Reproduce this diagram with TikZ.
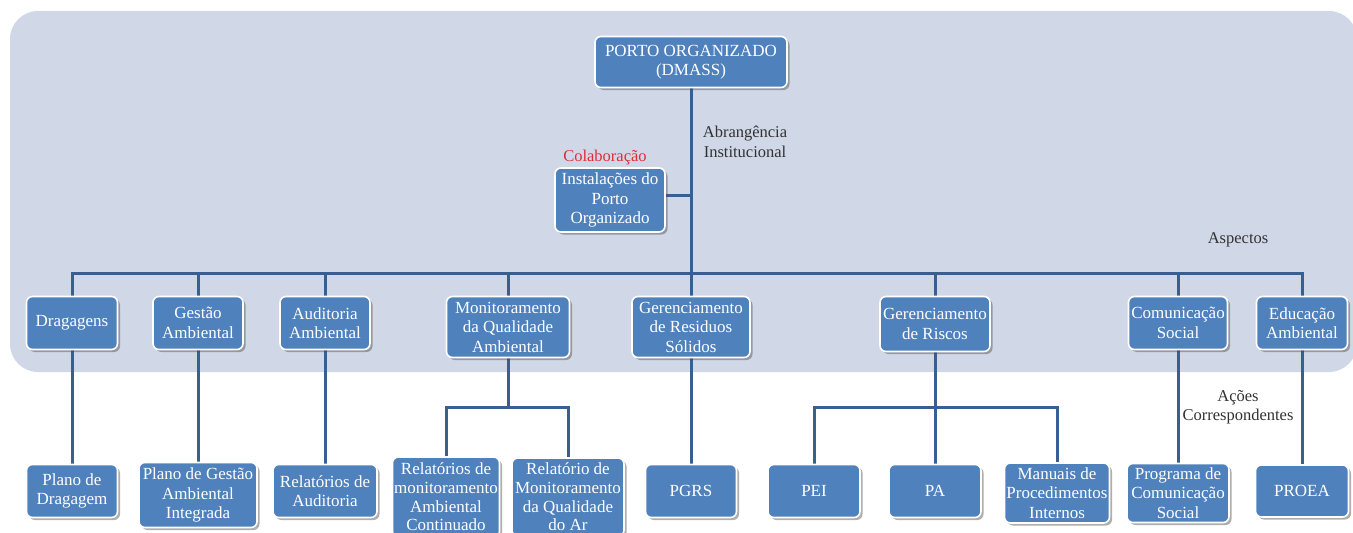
\documentclass[tikz,border=0pt]{standalone}
\usepackage{fontspec}
\setmainfont{Liberation Serif}
\usetikzlibrary{shadows}
\definecolor{panelc}{RGB}{208,216,232}
\definecolor{boxc}{RGB}{79,129,189}
\definecolor{linec}{RGB}{56,94,146}
\definecolor{labc}{RGB}{50,50,50}
\definecolor{redc}{RGB}{222,45,55}
\pgfdeclarelayer{bg}
\pgfdeclarelayer{lines}
\pgfsetlayers{bg,lines,main}
\tikzset{
  box/.style={draw=white, line width=1.6pt, fill=boxc, rounded corners=6pt,
    text=white, align=center, inner sep=0pt,
    font=\fontsize{17}{19.5}\selectfont,
    drop shadow={shadow xshift=2.5pt, shadow yshift=-2.5pt, opacity=0.45, fill=black!70}},
  tightbox/.style={font=\fontsize{17}{18.6}\selectfont},
  conn/.style={draw=linec, line width=3pt},
  lab/.style={text=labc, align=center, font=\fontsize{16.5}{19.5}\selectfont}
}
\newcommand{\bx}[7][]{\node[box, #1, minimum width=#5pt, minimum height=#6pt] (#2) at (#3,#4) {#7};}
\begin{document}
\begin{tikzpicture}[x=1pt,y=-1pt]
\useasboundingbox (0,0) rectangle (1353,533);
\begin{pgfonlayer}{bg}
\fill[panelc, rounded corners=28pt] (10,11) rectangle (1357,372);
\end{pgfonlayer}
% top
\bx{porto}{691}{62}{192}{51}{PORTO ORGANIZADO\\(DMASS)}
\bx{inst}{610}{200}{110}{64}{Instalações do\\Porto\\Organizado}
% level 2
\bx{drag}{72}{323}{91}{53}{Dragagens}
\bx{gest}{198}{323}{90}{53}{Gestão\\Ambiental}
\bx{aud}{325}{323}{90}{53}{Auditoria\\Ambiental}
\bx{mon}{508}{327}{123}{61}{Monitoramento\\da Qualidade\\Ambiental}
\bx{res}{691}{327}{118}{61}{Gerenciamento\\de Residuos\\Sólidos}
\bx{risc}{935}{324}{110}{55}{Gerenciamento\\de Riscos}
\bx{com}{1178}{323}{99}{53}{Comunicação\\Social}
\bx{edu}{1302}{323}{91}{53}{Educação\\Ambiental}
% level 3
\bx{pdrag}{72}{491}{91}{53}{Plano de\\Dragagem}
\bx{pgest}{198}{495}{118}{65}{Plano de Gestão\\Ambiental\\Integrada}
\bx{raud}{325}{491}{104}{53}{Relatórios de\\Auditoria}
\bx[tightbox]{rmon}{446}{497}{107}{80}{Relatórios de\\monitoramento\\Ambiental\\Continuado}
\bx[tightbox]{rar}{568}{497}{112}{78}{Relatório de\\Monitoramento\\da Qualidade\\do Ar}
\bx{pgrs}{691}{491}{91}{53}{PGRS}
\bx{pei}{814}{491}{92}{53}{PEI}
\bx{pa}{935}{491}{92}{53}{PA}
\bx{man}{1057}{493}{105}{60}{Manuais de\\Procedimentos\\Internos}
\bx{prog}{1178}{493}{102}{59}{Programa de\\Comunicação\\Social}
\bx{proea}{1302}{491}{93}{52}{PROEA}
% labels
\node[lab] (abr) at (745,142) {Abrangência\\Institucional};
\node[text=redc, font=\fontsize{16.5}{19.5}\selectfont] (col) at (605,158) {Colaboração};
\node[lab] (asp) at (1238,240) {Aspectos};
\node[lab] (acoes) at (1238,407) {Ações\\Correspondentes};
% buses
\coordinate (bus) at (691,273);
\coordinate (mbus) at (508,407);
\coordinate (rbus) at (935,407);
\begin{pgfonlayer}{lines}
\draw[conn] (porto.south) -- (res.north);
\draw[conn] (inst.east |- 0,195) -- (porto.south |- 0,195);
\draw[conn] (drag.north) -- (drag.north |- bus) -- (edu.north |- bus) -- (edu.north);
\foreach \n in {gest,aud,mon,risc,com}
  \draw[conn] (\n.north) -- (\n.north |- bus);
\draw[conn] (mon.south) -- (mbus);
\draw[conn] (rmon.north) -- (rmon.north |- mbus) -- (rar.north |- mbus) -- (rar.north);
\draw[conn] (risc.south) -- (pa.north);
\draw[conn] (pei.north) -- (pei.north |- rbus) -- (man.north |- rbus) -- (man.north);
\draw[conn] (drag.south) -- (pdrag.north);
\draw[conn] (gest.south) -- (pgest.north);
\draw[conn] (aud.south) -- (raud.north);
\draw[conn] (res.south) -- (pgrs.north);
\draw[conn] (com.south) -- (prog.north);
\draw[conn] (edu.south) -- (proea.north);
\end{pgfonlayer}
\end{tikzpicture}
\end{document}
